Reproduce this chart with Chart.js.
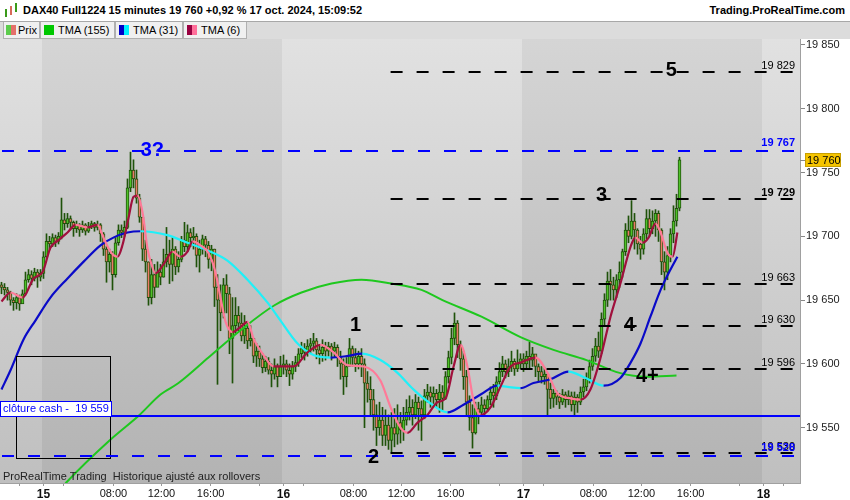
<!DOCTYPE html>
<html>
<head>
<meta charset="utf-8">
<title>DAX40 Full1224 15 minutes</title>
<script src="https://cdn.jsdelivr.net/npm/chart.js@4.4.1/dist/chart.umd.min.js"></script>
<style>
  body { margin: 0; width: 850px; height: 500px; overflow: hidden; background: #fff; position: relative;
         font-family: "Liberation Sans", Arial, sans-serif; }
  #top { position: absolute; left: 0; top: 0; width: 850px; height: 21px; background: #fff; border-bottom: 1px solid #a8a8a8; }
  #title { position: absolute; left: 23px; top: 4px; font: bold 11px "Liberation Sans", Arial, sans-serif; white-space: nowrap; }
  #site { position: absolute; right: 5px; top: 4px; font: bold 11px "Liberation Sans", Arial, sans-serif; white-space: nowrap; }
  .ic { position: absolute; width: 2px; background: #3a9a1a; }
  #legend { position: absolute; left: 0; top: 22px; width: 850px; height: 17px; background: #dcdcdc; }
  .item { position: absolute; top: 0; height: 16px; background: #f0f0f0; border: 1px solid #b0b0b0; border-top: none;
          font: 11px "Liberation Sans", Arial, sans-serif; line-height: 16px; white-space: nowrap; }
  .sw { position: absolute; top: 3px; width: 10px; height: 10px; }
  #chartBox { position: absolute; left: 0; top: 39px; width: 850px; height: 461px; }
</style>
</head>
<body>
<div id="top">
  <span class="ic" style="left:5px;top:9px;height:8px"></span>
  <span class="ic" style="left:10px;top:6px;height:9px;background:#d86a5a"></span>
  <span class="ic" style="left:15px;top:3px;height:9px"></span>
  <div id="title">DAX40 Full1224 15 minutes 19 760 +0,92 % 17 oct. 2024, 15:09:52</div>
  <div id="site">Trading.ProRealTime.com</div>
</div>
<div id="legend">
  <div class="item" style="left:3px;width:35px"><span class="sw" style="left:2px;background:linear-gradient(90deg,#5ccc4c 50%,#e4706a 50%)"></span><span style="position:absolute;left:14px">Prix</span></div>
  <div class="item" style="left:40px;width:73px"><span class="sw" style="left:3px;background:#00c800"></span><span style="position:absolute;left:17px">TMA (155)</span></div>
  <div class="item" style="left:115px;width:66px"><span class="sw" style="left:3px;background:linear-gradient(90deg,#0000c8 50%,#00f0ff 50%)"></span><span style="position:absolute;left:17px">TMA (31)</span></div>
  <div class="item" style="left:183px;width:62px"><span class="sw" style="left:3px;background:linear-gradient(90deg,#990040 50%,#ff6f9a 50%)"></span><span style="position:absolute;left:17px">TMA (6)</span></div>
</div>
<div id="chartBox"><canvas id="priceChart" width="850" height="461"></canvas></div>

<script>
// 15-minute bars, slot -14 (14 oct evening) to slot 212 (17 oct 15:00), 80 slots per session day
const firstSlot = -14;
const firstOpen = 19662;

const closes = [
  19660, 19658, 19656, 19650, 19648, 19652, 19647, 19655, 19666, 19670, 19667, 19672, 19668, 19671,
  // 15 oct
  19684, 19696, 19694, 19699, 19696, 19700, 19713, 19710, 19714, 19711,
  19706, 19709, 19705, 19709, 19704, 19708, 19710, 19707, 19709, 19702,
  19690, 19680, 19686, 19670, 19695, 19705, 19703, 19707, 19738, 19752,
  19745, 19730, 19715, 19690, 19680, 19652, 19670, 19660, 19672, 19668,
  19680, 19686, 19678, 19690, 19676, 19682, 19697, 19692, 19703, 19699,
  19700, 19685, 19690, 19698, 19693, 19682, 19690, 19660, 19650, 19640,
  19662, 19655, 19620, 19630, 19638, 19632, 19622, 19628, 19618, 19620,
  19606, 19610, 19604, 19597, 19602, 19595, 19592, 19598, 19590, 19598,
  // 16 oct
  19600, 19595, 19592, 19598, 19601, 19608, 19612, 19609, 19614, 19616,
  19618, 19611, 19608, 19613, 19610, 19614, 19610, 19613, 19606, 19600,
  19590, 19598, 19612, 19605, 19600, 19606, 19600, 19585, 19580, 19572,
  19560, 19550, 19556, 19544, 19552, 19540, 19550, 19545, 19554, 19548,
  19556, 19562, 19566, 19560, 19570, 19565, 19560, 19575, 19578, 19574,
  19577, 19572, 19578, 19573, 19590, 19605, 19620, 19632, 19615, 19604,
  19590, 19570, 19558, 19546, 19565, 19562, 19568, 19565, 19572, 19578,
  19575, 19586, 19594, 19600, 19594, 19598, 19602, 19596, 19600, 19604,
  // 17 oct
  19600, 19606, 19603, 19608, 19598, 19594, 19590, 19592, 19580, 19573,
  19577, 19574, 19570, 19576, 19572, 19575, 19568, 19574, 19570, 19578,
  19582, 19588, 19598, 19606, 19614, 19610, 19635, 19650, 19665, 19662,
  19658, 19666, 19672, 19688, 19705, 19700, 19712, 19705, 19694, 19690,
  19702, 19714, 19706, 19712, 19718, 19705, 19680, 19672, 19685, 19702,
  19712, 19722, 19760
];

const highs = [
  19664, 19663, 19660, 19657, 19652, 19655, 19654, 19658, 19672, 19674, 19673, 19675, 19674, 19674,
  19688, 19702, 19700, 19702, 19701, 19703, 19730, 19718, 19718, 19716,
  19712, 19712, 19710, 19712, 19710, 19711, 19712, 19711, 19712, 19710,
  19703, 19692, 19690, 19688, 19699, 19709, 19709, 19712, 19745, 19766,
  19760, 19752, 19733, 19715, 19697, 19680, 19682, 19678, 19680, 19678,
  19690, 19707, 19697, 19699, 19692, 19688, 19700, 19711, 19709, 19706,
  19707, 19702, 19697, 19701, 19700, 19696, 19693, 19690, 19670, 19662,
  19667, 19670, 19660, 19652, 19652, 19645, 19640, 19638, 19632, 19630,
  19620, 19616, 19614, 19608, 19606, 19605, 19600, 19604, 19600, 19606,
  19607, 19603, 19600, 19602, 19606, 19612, 19617, 19616, 19619, 19620,
  19624, 19620, 19614, 19619, 19617, 19617, 19616, 19617, 19615, 19610,
  19604, 19605, 19620, 19614, 19612, 19610, 19612, 19604, 19594, 19590,
  19580, 19568, 19570, 19566, 19564, 19560, 19562, 19565, 19568, 19562,
  19566, 19572, 19575, 19572, 19576, 19574, 19571, 19580, 19584, 19582,
  19582, 19580, 19584, 19583, 19594, 19610, 19628, 19640, 19634, 19618,
  19610, 19595, 19575, 19568, 19570, 19570, 19574, 19572, 19575, 19582,
  19584, 19590, 19601, 19606, 19603, 19604, 19610, 19604, 19611, 19608,
  19608, 19610, 19617, 19613, 19606, 19600, 19598, 19597, 19592, 19585,
  19580, 19579, 19577, 19580, 19578, 19579, 19578, 19578, 19576, 19582,
  19588, 19593, 19603, 19612, 19620, 19625, 19640, 19655, 19672, 19674,
  19668, 19670, 19680, 19690, 19710, 19716, 19728, 19718, 19706, 19700,
  19706, 19721, 19721, 19720, 19721, 19720, 19706, 19688, 19692, 19706,
  19724, 19733, 19762
];

const lows = [
  19655, 19654, 19650, 19646, 19642, 19643, 19642, 19648, 19654, 19664, 19662, 19665, 19660, 19665,
  19667, 19683, 19690, 19692, 19692, 19694, 19698, 19705, 19707, 19705,
  19700, 19703, 19700, 19703, 19701, 19703, 19706, 19704, 19705, 19696,
  19685, 19664, 19672, 19658, 19668, 19693, 19699, 19700, 19706, 19735,
  19738, 19726, 19711, 19681, 19672, 19646, 19647, 19652, 19664, 19662,
  19668, 19676, 19663, 19665, 19670, 19672, 19680, 19688, 19688, 19692,
  19690, 19676, 19672, 19686, 19684, 19675, 19673, 19645, 19584, 19626,
  19636, 19640, 19608, 19585, 19624, 19626, 19618, 19616, 19612, 19614,
  19601, 19598, 19598, 19593, 19594, 19592, 19582, 19588, 19582, 19590,
  19592, 19590, 19583, 19588, 19594, 19598, 19605, 19603, 19606, 19608,
  19610, 19604, 19600, 19602, 19603, 19606, 19603, 19605, 19598, 19588,
  19576, 19582, 19598, 19598, 19594, 19596, 19590, 19550, 19570, 19560,
  19548, 19536, 19544, 19536, 19536, 19533, 19530, 19535, 19537, 19538,
  19540, 19552, 19556, 19552, 19557, 19548, 19540, 19557, 19570, 19566,
  19569, 19566, 19562, 19564, 19572, 19585, 19600, 19615, 19605, 19595,
  19580, 19560, 19548, 19534, 19545, 19553, 19560, 19560, 19563, 19568,
  19566, 19572, 19584, 19590, 19589, 19590, 19594, 19591, 19594, 19596,
  19594, 19596, 19597, 19598, 19590, 19586, 19585, 19584, 19560, 19565,
  19566, 19568, 19565, 19568, 19566, 19568, 19563, 19560, 19562, 19568,
  19574, 19579, 19585, 19595, 19602, 19605, 19608, 19630, 19645, 19650,
  19650, 19652, 19660, 19668, 19685, 19695, 19698, 19690, 19686, 19682,
  19686, 19698, 19700, 19702, 19700, 19696, 19670, 19658, 19666, 19680,
  19695, 19708, 19720
];

// moving averages (slot, value)
const tma155Slots = [4, 8, 22, 32, 39, 45, 55, 66, 77, 86, 96, 106, 116, 126, 133, 146, 159, 170, 181, 192, 201, 211];
const tma155Vals  = [19497, 19508, 19540, 19560, 19576, 19585, 19605, 19627, 19646, 19656, 19663, 19666, 19663, 19658, 19650, 19637, 19621, 19611, 19603, 19593, 19590, 19591];

const tma31Slots = [-14, -11, -6.7, -2.7, 2.3, 8, 13.3, 19, 23.3, 28, 32.3, 41.3, 48, 54.7, 61.3, 68, 74.7, 79, 84.7, 90, 95.7,
                    100.7, 106.3, 112.3, 118, 123.3, 129, 134.7, 140, 145.7, 151.3, 154.7, 159, 163.3, 169, 175, 180.7, 186.7,
                    192.3, 195.7, 199, 202.3, 205.7, 209, 211.3];
const tma31Vals  = [19580, 19595, 19619, 19634, 19652, 19667, 19680, 19693, 19699, 19703, 19704, 19701, 19695, 19689, 19681, 19666, 19648, 19634, 19616, 19607, 19605,
                    19606, 19608, 19603, 19593, 19580, 19569, 19562, 19568, 19576, 19583, 19582, 19581, 19585, 19588, 19594, 19589, 19583,
                    19589, 19601, 19616, 19637, 19658, 19674, 19684];

const tma6Slots = [-14, -11, -7, -3.3, -0.3, 2.3, 5, 8, 10.7, 14.7, 18, 20, 22.3, 24.7, 26.3, 28.3, 30, 31.3, 33, 34.7, 36, 37.3, 40, 43,
                   45.7, 48, 49.7, 52.3, 55, 57.3, 59, 60.7, 63, 65.7, 68, 70, 73.3, 76.7, 80, 83.3, 88, 92.3, 96.7, 101.3, 106.7,
                   112.3, 115.7, 119, 121.3, 124.7, 128, 131.3, 134, 136.7, 139, 141.3, 143.3, 145.7, 149, 152.3, 155.7, 159, 164,
                   168, 171.3, 175.7, 179, 182.3, 185.7, 189, 192.3, 195.7, 197.3, 199.7, 201.7, 204, 205.7, 208, 209.7, 211.3];
const tma6Vals  = [19649, 19656, 19652, 19667, 19672, 19691, 19697, 19703, 19709, 19707, 19709, 19699, 19688, 19684, 19693, 19714, 19731, 19732, 19719, 19690, 19678, 19671, 19678, 19688,
                   19684, 19688, 19696, 19693, 19687, 19672, 19652, 19633, 19625, 19629, 19633, 19620, 19607, 19598, 19598, 19598, 19609, 19615, 19609, 19599, 19598,
                   19587, 19566, 19550, 19546, 19554, 19560, 19570, 19573, 19598, 19615, 19598, 19572, 19560, 19566, 19582, 19598, 19601, 19605,
                   19593, 19577, 19573, 19572, 19580, 19605, 19637, 19663, 19692, 19699, 19695, 19699, 19710, 19703, 19687, 19684, 19703];

// horizontal levels and notes
const blackLevels = [19829, 19729, 19663, 19630, 19596, 19530];
const blackLevelBold = [false, true, false, false, false, false];
const blueLevels = [19767, 19528];
const cashClose = 19559;
const lastPrice = 19760;

const noteTexts  = ['3?', '5', '3', '4', '4+', '1', '2'];
const noteSlots  = [36.3, 209.3, 186, 195.3, 201.3, 104, 110];
const notePrices = [19767, 19830, 19732, 19630, 19590, 19630, 19527];
const noteColors = ['#0000ff', '#000', '#000', '#000', '#000', '#000', '#000'];

// x axis: slots of the time ticks and their labels
const xTickSlots  = [-8, 0, 6.7, 23.3, 39.3, 55.7, 72, 80, 86.7, 103.3, 119.3, 135.7, 152, 160, 166.7, 183.3, 199.3, 215.7, 232, 240, 246.7];
const xTickLabels = ['', '15', '', '08:00', '12:00', '16:00', '', '16', '', '08:00', '12:00', '16:00', '', '17', '', '08:00', '12:00', '16:00', '', '18', ''];
const yTicks = [19550, 19600, 19650, 19700, 19750, 19800, 19850];
const dayEdges = [0, 80, 160, 240];

const FONT = '"Liberation Sans", Arial, sans-serif';

function fmtPrice(v) {
  const s = String(Math.round(v));
  return s.slice(0, s.length - 3) + ' ' + s.slice(-3);
}

/**
 * Alternating day shading behind the bars
 */
const dayBands = {
  id: 'dayBands',
  beforeDatasetsDraw(chart) {
    const { ctx, chartArea: a, scales: { x } } = chart;
    const edges = [x.min].concat(dayEdges.map(d => d - 0.5), [x.max]);
    for (let i = 0; i < edges.length - 1; i++) {
      const x0 = Math.max(a.left, x.getPixelForValue(edges[i]));
      const x1 = Math.min(a.right, x.getPixelForValue(edges[i + 1]));
      const g = ctx.createLinearGradient(0, a.top, 0, a.bottom);
      if (i % 2 === 0) {
        g.addColorStop(0, '#e1e1e1');
        g.addColorStop(1, '#bfbfbf');
      } else {
        g.addColorStop(0, '#d5d5d5');
        g.addColorStop(1, '#b3b3b3');
      }
      ctx.save();
      ctx.fillStyle = g;
      ctx.fillRect(x0, a.top, x1 - x0, a.bottom - a.top);
      ctx.restore();
    }
  }
};

/**
 * Levels, notes and boxes drawn over the price bars
 */
const overlays = {
  id: 'overlays',
  afterDatasetsDraw(chart) {
    const { ctx, chartArea: a, scales: { x, y } } = chart;
    const lineStart = x.getPixelForValue(115.7);
    const lineEnd = a.right - 6;
    ctx.save();
    ctx.beginPath();
    ctx.rect(a.left, a.top, a.right - a.left, a.bottom - a.top);
    ctx.clip();

    // black rectangle on the left
    ctx.strokeStyle = '#000';
    ctx.lineWidth = 1;
    const rx0 = Math.round(x.getPixelForValue(-9)) + 0.5;
    const rx1 = Math.round(x.getPixelForValue(22.3)) + 0.5;
    const ry0 = Math.round(y.getPixelForValue(19606)) + 0.5;
    const ry1 = Math.round(y.getPixelForValue(19526)) + 0.5;
    ctx.strokeRect(rx0, ry0, rx1 - rx0, ry1 - ry0);

    ctx.lineWidth = 2;
    ctx.setLineDash([12, 14]);
    blueLevels.forEach(v => {
      const py = Math.round(y.getPixelForValue(v));
      ctx.strokeStyle = '#0000ff';
      ctx.beginPath();
      ctx.moveTo(a.left + 2, py);
      ctx.lineTo(lineEnd, py);
      ctx.stroke();
    });
    blackLevels.forEach(v => {
      const py = Math.round(y.getPixelForValue(v));
      ctx.strokeStyle = '#000';
      ctx.beginPath();
      ctx.moveTo(lineStart, py);
      ctx.lineTo(lineEnd, py);
      ctx.stroke();
    });
    ctx.setLineDash([]);

    // cash close line
    const cy = Math.round(y.getPixelForValue(cashClose));
    ctx.strokeStyle = '#0000ff';
    ctx.beginPath();
    ctx.moveTo(a.left, cy);
    ctx.lineTo(a.right, cy);
    ctx.stroke();

    ctx.fillStyle = '#fff';
    ctx.fillRect(a.left, cy - 15, 112, 16);
    ctx.lineWidth = 1;
    ctx.strokeRect(a.left + 0.5, cy - 14.5, 111, 15);
    ctx.font = '11px ' + FONT;
    ctx.fillStyle = '#0000ff';
    ctx.textBaseline = 'middle';
    ctx.textAlign = 'left';
    ctx.fillText('clôture cash -  19 559', a.left + 3, cy - 7);

    // level labels on the right
    ctx.textAlign = 'right';
    ctx.textBaseline = 'alphabetic';
    blackLevels.forEach((v, i) => {
      ctx.font = (blackLevelBold[i] ? 'bold ' : '') + '11px ' + FONT;
      ctx.fillStyle = '#000';
      ctx.fillText(fmtPrice(v), a.right - 5, y.getPixelForValue(v) - 3);
    });
    blueLevels.forEach(v => {
      ctx.font = 'bold 11px ' + FONT;
      ctx.fillStyle = '#0000ff';
      ctx.fillText(fmtPrice(v), a.right - 5, y.getPixelForValue(v) - 5);
    });

    // wave notes
    ctx.font = 'bold 20px ' + FONT;
    ctx.textAlign = 'center';
    ctx.textBaseline = 'middle';
    noteTexts.forEach((t, i) => {
      ctx.fillStyle = noteColors[i];
      ctx.fillText(t, x.getPixelForValue(noteSlots[i]), y.getPixelForValue(notePrices[i]));
    });

    ctx.font = '11px ' + FONT;
    ctx.fillStyle = '#222';
    ctx.textAlign = 'left';
    ctx.textBaseline = 'alphabetic';
    ctx.fillText('ProRealTime Trading  Historique ajusté aux rollovers', a.left + 3, a.bottom - 3);
    ctx.restore();
  },
  afterDraw(chart) {
    const { ctx, chartArea: a, scales: { y } } = chart;
    const py = Math.round(y.getPixelForValue(lastPrice));
    ctx.save();
    ctx.strokeStyle = '#888';
    ctx.lineWidth = 1;
    ctx.beginPath();
    ctx.moveTo(a.right, py + 0.5);
    ctx.lineTo(a.right + 5, py + 0.5);
    ctx.stroke();
    ctx.fillStyle = '#f5c400';
    ctx.fillRect(a.right + 5, py - 7, 36, 14);
    ctx.strokeStyle = '#c9a000';
    ctx.strokeRect(a.right + 5.5, py - 6.5, 35, 13);
    ctx.fillStyle = '#000';
    ctx.font = '11px ' + FONT;
    ctx.textBaseline = 'middle';
    ctx.textAlign = 'left';
    ctx.fillText(fmtPrice(lastPrice), a.right + 7, py + 1);
    ctx.restore();
  }
};

function createPriceChart() {
  const opens = closes.map((c, i) => (i === 0 ? firstOpen : closes[i - 1]));
  const bodies = closes.map((c, i) => ({ x: firstSlot + i, y: [opens[i], c] }));
  const wicks = closes.map((c, i) => ({ x: firstSlot + i, y: [lows[i], highs[i]] }));
  const bodyColors = closes.map((c, i) => (c >= opens[i] ? '#4fc22a' : '#ec7a68'));
  const pts = (xs, vs) => xs.map((s, i) => ({ x: s, y: vs[i] }));
  const dirColor = (up, down) => ctx => (ctx.p1.parsed.y >= ctx.p0.parsed.y ? up : down);

  const ctx = document.getElementById('priceChart').getContext('2d');
  return new Chart(ctx, {
    data: {
      datasets: [{
        type: 'line',
        label: 'TMA (6)',
        data: pts(tma6Slots, tma6Vals),
        borderWidth: 2.2,
        pointRadius: 0,
        cubicInterpolationMode: 'monotone',
        segment: { borderColor: dirColor('#a0103c', '#ff7a98') },
        order: 0
      }, {
        type: 'line',
        label: 'TMA (31)',
        data: pts(tma31Slots, tma31Vals),
        borderWidth: 2.2,
        pointRadius: 0,
        cubicInterpolationMode: 'monotone',
        segment: { borderColor: dirColor('#0a0ac8', '#20f0f8') },
        order: 1
      }, {
        type: 'line',
        label: 'TMA (155)',
        data: pts(tma155Slots, tma155Vals),
        borderColor: '#1ec81e',
        borderWidth: 2,
        pointRadius: 0,
        cubicInterpolationMode: 'monotone',
        order: 2
      }, {
        type: 'bar',
        label: 'Prix',
        data: bodies,
        backgroundColor: bodyColors,
        borderColor: '#1f520a',
        borderWidth: 1,
        borderSkipped: false,
        barThickness: 3,
        grouped: false,
        order: 3
      }, {
        type: 'bar',
        label: 'Mèches',
        data: wicks,
        backgroundColor: '#1f520a',
        borderWidth: 0,
        barThickness: 1,
        grouped: false,
        order: 4
      }]
    },
    options: {
      responsive: false,
      animation: false,
      events: [],
      layout: { padding: 0 },
      plugins: {
        legend: { display: false },
        tooltip: { enabled: false }
      },
      scales: {
        x: {
          type: 'linear',
          offset: false,
          min: -14.5,
          max: -14.5 + 800 / 3,
          afterBuildTicks: s => { s.ticks = xTickSlots.map(v => ({ value: v })); },
          afterFit: s => { s.height = 17; s.paddingLeft = 0; s.paddingRight = 0; },
          grid: { drawOnChartArea: false, tickLength: 3, color: '#999', offset: false },
          border: { color: '#a0a0a0' },
          ticks: {
            autoSkip: false,
            maxRotation: 0,
            padding: 1,
            color: '#111',
            callback: (v, i) => xTickLabels[i],
            font: c => (xTickLabels[c.index] && xTickLabels[c.index].length <= 2
              ? { family: FONT, size: 12, weight: 'bold' }
              : { family: FONT, size: 11 })
          }
        },
        y: {
          position: 'right',
          min: 19506.65,
          max: 19854.7,
          afterBuildTicks: s => { s.ticks = yTicks.map(v => ({ value: v })); },
          afterFit: s => { s.width = 50; s.paddingTop = 0; s.paddingBottom = 0; },
          grid: { drawOnChartArea: false, tickLength: 5, color: '#888' },
          border: { color: '#a0a0a0' },
          ticks: {
            padding: 1,
            color: '#222',
            font: { family: FONT, size: 11 },
            callback: v => fmtPrice(v)
          }
        }
      }
    },
    plugins: [dayBands, overlays]
  });
}

document.addEventListener('DOMContentLoaded', createPriceChart);
</script>
</body>
</html>
